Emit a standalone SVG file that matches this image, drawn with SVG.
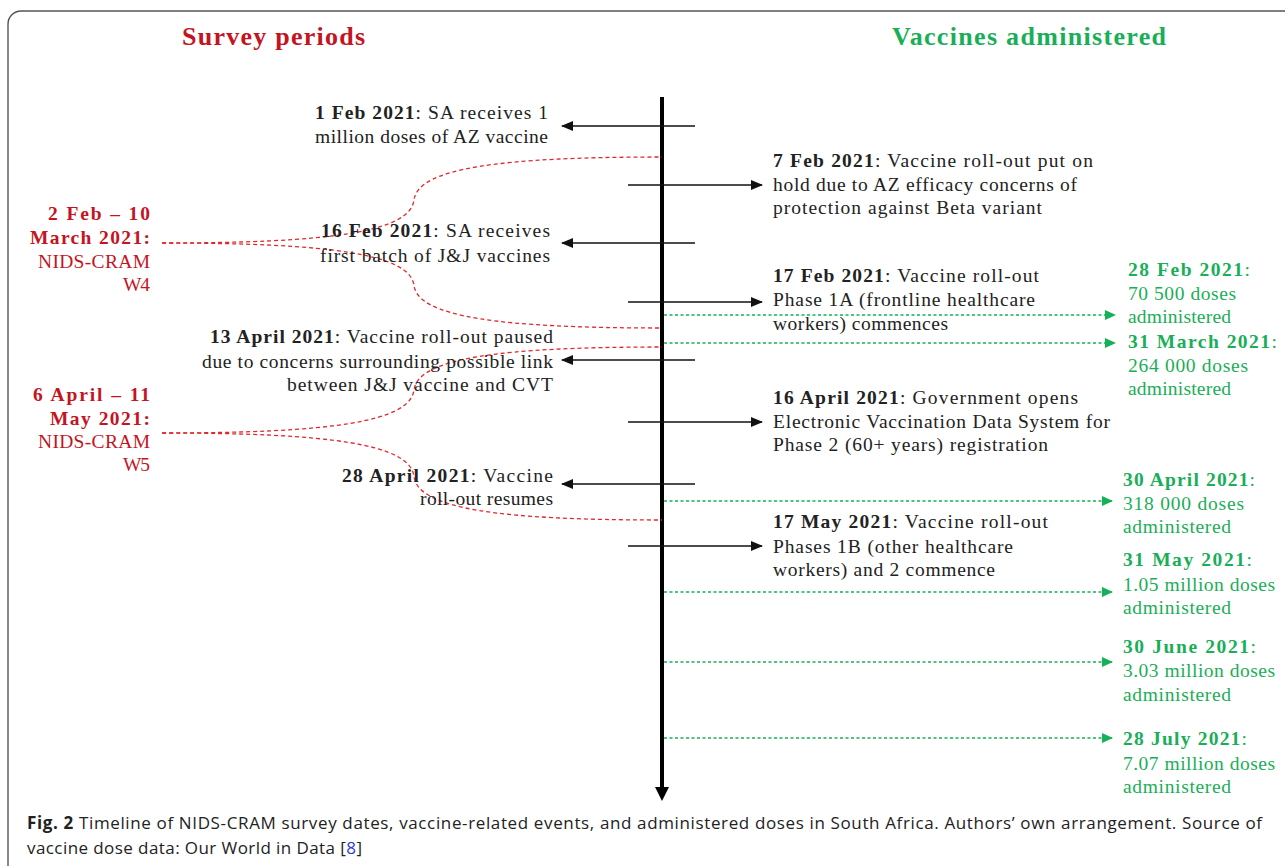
<svg xmlns="http://www.w3.org/2000/svg" width="1285" height="866" viewBox="0 0 1285 866">
<defs>
<marker id="ab" viewBox="0 0 12 10" refX="11" refY="5" markerWidth="12" markerHeight="10" markerUnits="userSpaceOnUse" orient="auto"><path d="M0,0 L12,5 L0,10 Z" fill="#111"/></marker>
<marker id="ag" viewBox="0 0 11 10" refX="10" refY="5" markerWidth="11" markerHeight="10" markerUnits="userSpaceOnUse" orient="auto"><path d="M0,0 L11,5 L0,10 Z" fill="#15b158"/></marker>
<style>
.t{font-family:"Liberation Serif","DejaVu Serif",serif;font-size:19.5px;fill:#222}
.b{font-weight:bold}
.r{fill:#c4141f}
.g{fill:#19ae58}
.h{font-family:"Liberation Serif","DejaVu Serif",serif;font-size:26px;font-weight:bold}
.e{text-anchor:end}
.blk{stroke:#111;stroke-width:1.4;fill:none}
.rd{stroke:#e0282d;stroke-width:1.3;stroke-dasharray:4 3;fill:none}
.gd{stroke:#15b158;stroke-width:1.4;stroke-dasharray:3 2.5;fill:none}
.cap{font-family:"Open Sans","Liberation Sans",sans-serif;font-size:17px;fill:#222}
</style>
</defs>
<rect x="0" y="0" width="1285" height="866" fill="#fff"/>
<rect x="8" y="11" width="1320" height="900" rx="13" fill="none" stroke="#555" stroke-width="1.4"/>

<g id="titles">
<text class="h r" x="182" y="45" textLength="183">Survey periods</text>
<text class="h g" x="892" y="45" textLength="274">Vaccines administered</text>
</g>

<g id="connectors">
<line x1="662" y1="97" x2="662" y2="790" stroke="#000" stroke-width="4"/>
<path d="M655,787 L669,787 L662,801 Z" fill="#000"/>
<line class="blk" x1="695" y1="126" x2="562" y2="126" marker-end="url(#ab)"/>
<line class="blk" x1="695" y1="243" x2="562" y2="243" marker-end="url(#ab)"/>
<line class="blk" x1="695" y1="360" x2="562" y2="360" marker-end="url(#ab)"/>
<line class="blk" x1="695" y1="484" x2="562" y2="484" marker-end="url(#ab)"/>
<line class="blk" x1="628" y1="185" x2="762" y2="185" marker-end="url(#ab)"/>
<line class="blk" x1="628" y1="302" x2="762" y2="302" marker-end="url(#ab)"/>
<line class="blk" x1="628" y1="422" x2="762" y2="422" marker-end="url(#ab)"/>
<line class="blk" x1="628" y1="546" x2="762" y2="546" marker-end="url(#ab)"/>
<path class="rd" d="M162,243 C330,243 410,232 414,200 C418,168 500,157 662,157"/>
<path class="rd" d="M162,243 C330,243 410,254 414,285.5 C418,317 500,328 662,328"/>
<path class="rd" d="M162,433 C330,433 410,422 414,390 C418,358 500,347 662,347"/>
<path class="rd" d="M162,433 C330,433 410,444 414,476.5 C418,509 500,520 662,520"/>
<line class="gd" x1="664" y1="315" x2="1115" y2="315" marker-end="url(#ag)"/>
<line class="gd" x1="664" y1="343" x2="1115" y2="343" marker-end="url(#ag)"/>
<line class="gd" x1="664" y1="501" x2="1112" y2="501" marker-end="url(#ag)"/>
<line class="gd" x1="664" y1="592" x2="1112" y2="592" marker-end="url(#ag)"/>
<line class="gd" x1="664" y1="662" x2="1112" y2="662" marker-end="url(#ag)"/>
<line class="gd" x1="664" y1="738" x2="1112" y2="738" marker-end="url(#ag)"/>
</g>

<g id="survey-w4">
<text class="t r b e" x="150" y="220" textLength="102">2 Feb – 10</text>
<text class="t r b e" x="150" y="244" textLength="120">March 2021:</text>
<text class="t r e" x="150" y="268" textLength="112">NIDS-CRAM</text>
<text class="t r e" x="150" y="291" textLength="27">W4</text>
</g>
<g id="survey-w5">
<text class="t r b e" x="150" y="401" textLength="117">6 April – 11</text>
<text class="t r b e" x="150" y="425" textLength="100">May 2021:</text>
<text class="t r e" x="150" y="448" textLength="112">NIDS-CRAM</text>
<text class="t r e" x="150" y="471" textLength="27">W5</text>
</g>

<g id="ev-1feb">
<text class="t e" x="548" y="119" textLength="233"><tspan class="b">1 Feb 2021</tspan>: SA receives 1</text>
<text class="t e" x="548" y="143" textLength="233">million doses of AZ vaccine</text>
</g>
<g id="ev-16feb">
<text class="t e" x="550" y="237" textLength="229"><tspan class="b">16 Feb 2021</tspan>: SA receives</text>
<text class="t e" x="550" y="262" textLength="230">first batch of J&amp;J vaccines</text>
</g>
<g id="ev-13apr">
<text class="t e" x="553" y="343" textLength="343"><tspan class="b">13 April 2021</tspan>: Vaccine roll-out paused</text>
<text class="t e" x="553" y="368" textLength="351">due to concerns surrounding possible link</text>
<text class="t e" x="553" y="391" textLength="266">between J&amp;J vaccine and CVT</text>
</g>
<g id="ev-28apr">
<text class="t e" x="553" y="482" textLength="211"><tspan class="b">28 April 2021</tspan>: Vaccine</text>
<text class="t e" x="553" y="505" textLength="133">roll-out resumes</text>
</g>

<g id="ev-7feb">
<text class="t" x="773" y="167" textLength="320"><tspan class="b">7 Feb 2021</tspan>: Vaccine roll-out put on</text>
<text class="t" x="773" y="191" textLength="304">hold due to AZ efficacy concerns of</text>
<text class="t" x="773" y="214" textLength="269">protection against Beta variant</text>
</g>
<g id="ev-17feb">
<text class="t" x="773" y="282" textLength="266"><tspan class="b">17 Feb 2021</tspan>: Vaccine roll-out</text>
<text class="t" x="773" y="306" textLength="262">Phase 1A (frontline healthcare</text>
<text class="t" x="773" y="330" textLength="175">workers) commences</text>
</g>
<g id="ev-16apr">
<text class="t" x="773" y="404" textLength="305"><tspan class="b">16 April 2021</tspan>: Government opens</text>
<text class="t" x="773" y="428" textLength="337">Electronic Vaccination Data System for</text>
<text class="t" x="773" y="451" textLength="275">Phase 2 (60+ years) registration</text>
</g>
<g id="ev-17may">
<text class="t" x="773" y="528" textLength="275"><tspan class="b">17 May 2021</tspan>: Vaccine roll-out</text>
<text class="t" x="773" y="553" textLength="240">Phases 1B (other healthcare</text>
<text class="t" x="773" y="576" textLength="222">workers) and 2 commence</text>
</g>

<g id="dose-28feb">
<text class="t g" x="1128" y="276" textLength="122"><tspan class="b">28 Feb 2021</tspan>:</text>
<text class="t g" x="1128" y="300" textLength="108">70 500 doses</text>
<text class="t g" x="1128" y="323" textLength="103">administered</text>
</g>
<g id="dose-31mar">
<text class="t g" x="1128" y="348" textLength="149"><tspan class="b">31 March 2021</tspan>:</text>
<text class="t g" x="1128" y="372" textLength="120">264 000 doses</text>
<text class="t g" x="1128" y="395" textLength="103">administered</text>
</g>
<g id="dose-30apr">
<text class="t g" x="1123" y="486" textLength="132"><tspan class="b">30 April 2021</tspan>:</text>
<text class="t g" x="1123" y="510" textLength="121">318 000 doses</text>
<text class="t g" x="1123" y="533" textLength="108">administered</text>
</g>
<g id="dose-31may">
<text class="t g" x="1123" y="566" textLength="129"><tspan class="b">31 May 2021</tspan>:</text>
<text class="t g" x="1123" y="591" textLength="152">1.05 million doses</text>
<text class="t g" x="1123" y="614" textLength="108">administered</text>
</g>
<g id="dose-30jun">
<text class="t g" x="1123" y="653" textLength="133"><tspan class="b">30 June 2021</tspan>:</text>
<text class="t g" x="1123" y="677" textLength="152">3.03 million doses</text>
<text class="t g" x="1123" y="701" textLength="108">administered</text>
</g>
<g id="dose-28jul">
<text class="t g" x="1123" y="745" textLength="124"><tspan class="b">28 July 2021</tspan>:</text>
<text class="t g" x="1123" y="770" textLength="152">7.07 million doses</text>
<text class="t g" x="1123" y="793" textLength="108">administered</text>
</g>

<g id="caption">
<text class="cap" x="27" y="829" textLength="1235"><tspan font-weight="bold">Fig. 2</tspan>  Timeline of NIDS-CRAM survey dates, vaccine-related events, and administered doses in South Africa. Authors’ own arrangement. Source of</text>
<text class="cap" x="27" y="854" textLength="335">vaccine dose data: Our World in Data [<tspan fill="#2b3bd6">8</tspan>]</text>
</g>
</svg>
